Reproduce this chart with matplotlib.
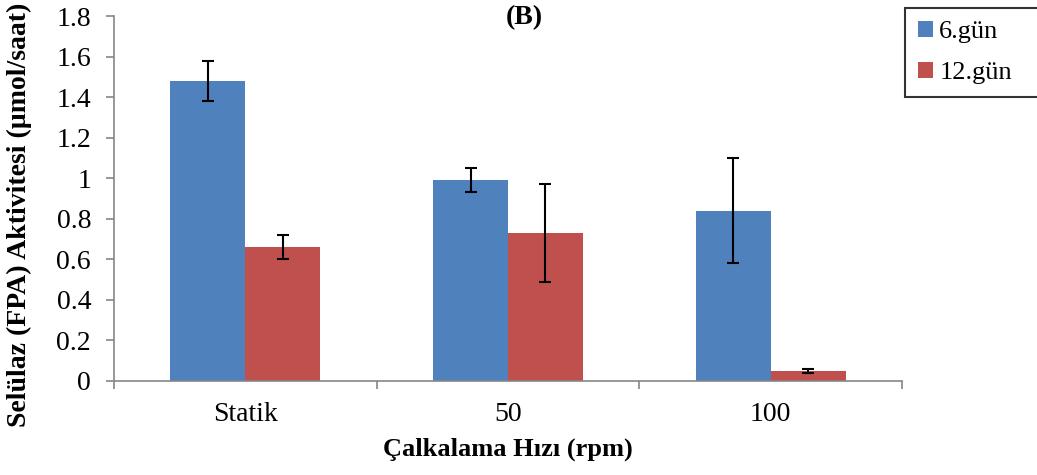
import matplotlib
matplotlib.use('Agg')
import matplotlib.pyplot as plt
import numpy as np

plt.rcParams['font.family'] = ['Liberation Serif', 'DejaVu Serif']

# data
categories = ["Statik", "50", "100"]
series = ["6.gün", "12.gün"]
gun6 = [1.48, 0.99, 0.84]
gun6_err = [0.10, 0.06, 0.26]
gun12 = [0.66, 0.73, 0.05]
gun12_err = [0.06, 0.24, 0.01]
ytick_labels = ["0", "0.2", "0.4", "0.6", "0.8", "1", "1.2", "1.4", "1.6", "1.8"]

colors = ["#4F81BD", "#C0504D"]
axis_gray = "#868686"

fig = plt.figure(figsize=(10.37, 4.75), dpi=100)
ax = fig.add_axes([0.1099, 0.198, 0.7599, 0.768])

x = np.arange(len(categories))
w = 0.285
ax.bar(x - w / 2, gun6, w, color=colors[0], label=series[0])
ax.bar(x + w / 2, gun12, w, color=colors[1], label=series[1])
# error bars
for xs, vals, errs in [(x - w / 2, gun6, gun6_err), (x + w / 2, gun12, gun12_err)]:
    ax.errorbar(xs, vals, yerr=errs, fmt='none', ecolor='black',
                elinewidth=1.5, capsize=4.5, capthick=1.5)

ax.set_xlim(-0.5, len(categories) - 0.5)
ax.set_ylim(0, 1.8)
ax.set_yticks(np.arange(0, 1.81, 0.2))
ax.set_yticklabels(ytick_labels)
ax.set_xticks(x)
ax.set_xticklabels(categories)
ax.set_xticks(np.arange(-0.5, len(categories), 1.0), minor=True)
ax.tick_params(axis='x', which='major', length=0, labelsize=20, pad=15)
ax.tick_params(axis='x', which='minor', length=5.5, color=axis_gray, width=1.2)
ax.tick_params(axis='y', length=5.5, color=axis_gray, width=1.2, labelsize=20, pad=11)

for s in ['top', 'right']:
    ax.spines[s].set_visible(False)
for s in ['left', 'bottom']:
    ax.spines[s].set_color(axis_gray)
    ax.spines[s].set_linewidth(1.2)

fig.text(19 / 1037, 1 - 215 / 475, "Selülaz (FPA) Aktivitesi (µmol/saat)", rotation=90,
         ha='center', va='center', fontsize=20, fontweight='bold')
fig.text(508 / 1037, 1 - 449 / 475, "Çalkalama Hızı (rpm)",
         ha='center', va='center', fontsize=19, fontweight='bold')
fig.text(524 / 1037, 1 - 18 / 475, "(B)",
         ha='center', va='center', fontsize=20, fontweight='bold')

# legend box runs off the right edge like in the source
leg = fig.legend(loc='upper left', mode='expand',
                 bbox_to_anchor=(905 / 1037, 1 - 98 / 475, 140 / 1037, 90 / 475),
                 fontsize=19, frameon=True, fancybox=False, edgecolor='black',
                 handlelength=0.55, handleheight=0.55, handletextpad=0.25,
                 labelspacing=0.7, borderpad=0.5, borderaxespad=0)
leg.get_frame().set_linewidth(1.5)

fig.savefig("out.png", dpi=100)
